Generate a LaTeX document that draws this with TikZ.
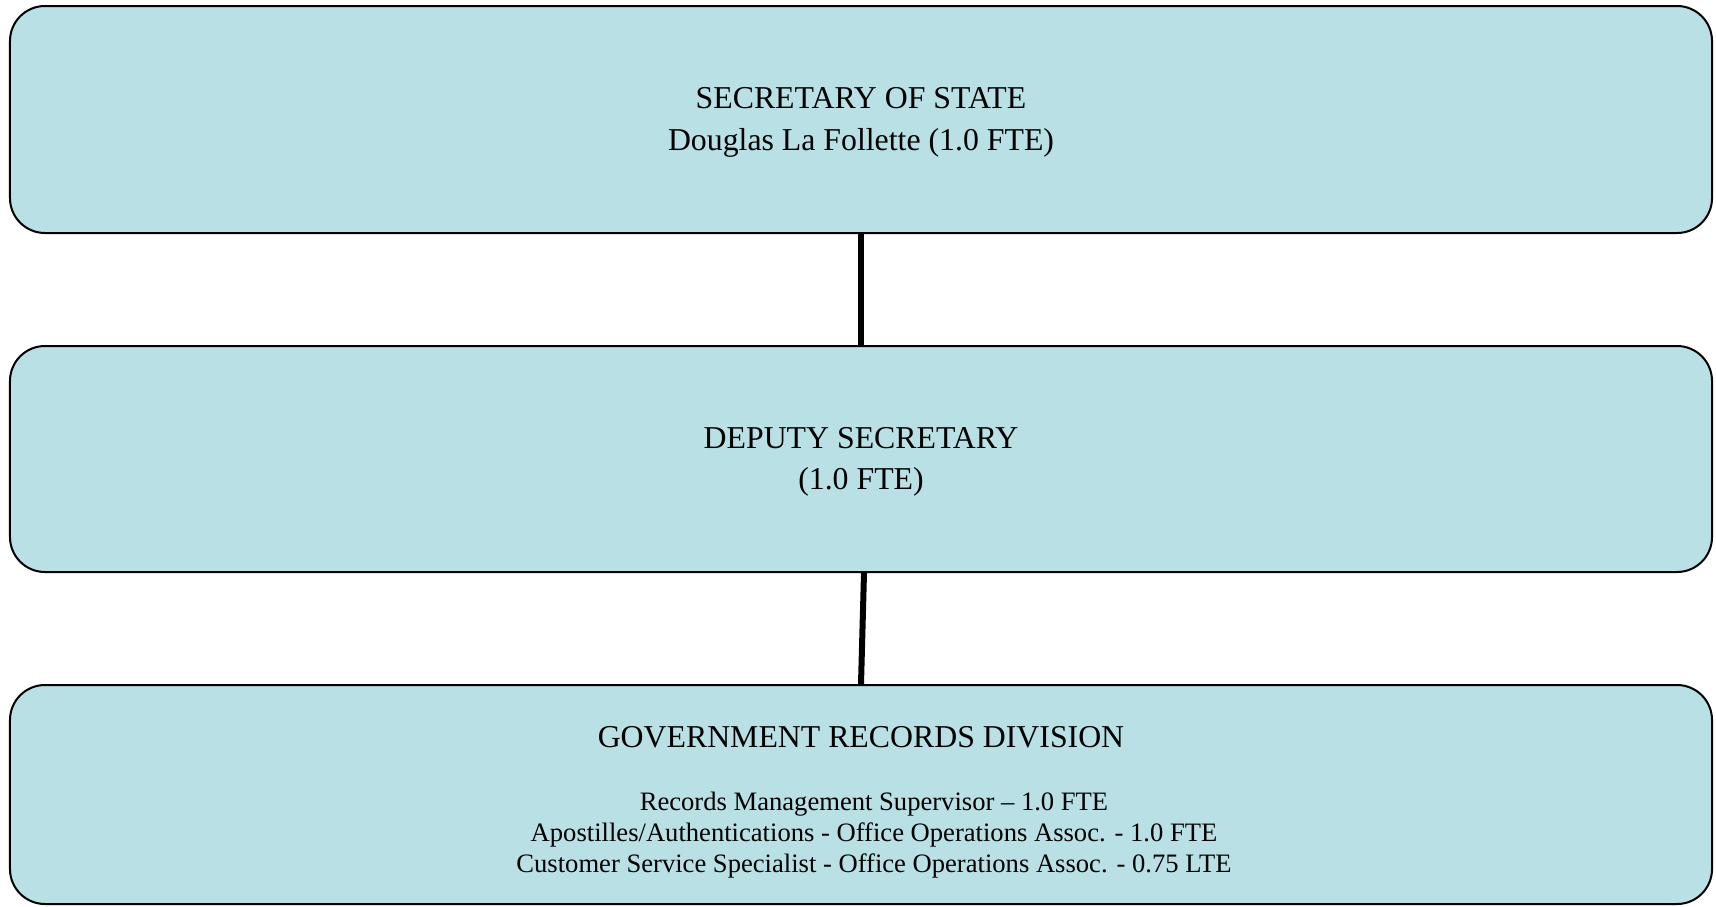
\documentclass[tikz,border=0pt]{standalone}
\usepackage{fontspec}
\setmainfont{Liberation Serif}
\definecolor{boxfill}{RGB}{185,224,228}
\tikzset{
  orgbox/.style={draw=black, line width=1bp, fill=boxfill, rounded corners=17.5bp,
    minimum width=851bp, inner sep=0pt, anchor=north},
  bigtxt/.style={font=\fontsize{15.9bp}{22.4bp}\selectfont, inner sep=0pt, align=center},
  smalltxt/.style={font=\fontsize{13.3bp}{15.3bp}\selectfont, inner sep=0pt, align=center},
  link/.style={line width=3bp, black}
}
\begin{document}
\begin{tikzpicture}[x=0.5bp,y=-0.5bp]
\useasboundingbox[fill=white] (0,0) rectangle (1716,906);
\node[orgbox, minimum height=113.5bp] (sec) at (861,5) {};
\node[orgbox, minimum height=113bp] (dep) at (861,345) {};
\node[orgbox, minimum height=109.5bp] (grd) at (861,684) {};
\draw[link] (sec.south) -- (dep.north);
\draw[link] ([xshift=1.5bp]dep.south) -- (grd.north);
\node[bigtxt] (t1) at (861,98.5) {SECRETARY OF STATE};
\node[bigtxt] (t2) at (861,143) {Douglas La Follette (1.0 FTE)};
\node[bigtxt] (t3) at (861,438) {DEPUTY SECRETARY};
\node[bigtxt] (t4) at (861,481.5) {(1.0 FTE)};
\node[bigtxt] (t5) at (861,737) {GOVERNMENT RECORDS DIVISION};
\node[smalltxt] (t6) at (874,804) {Records Management Supervisor – 1.0 FTE};
\node[smalltxt] (t7) at (874,835) {Apostilles/Authentications - Office Operations Assoc. - 1.0 FTE};
\node[smalltxt] (t8) at (874,865.5) {Customer Service Specialist - Office Operations Assoc. - 0.75 LTE};
\end{tikzpicture}
\end{document}
